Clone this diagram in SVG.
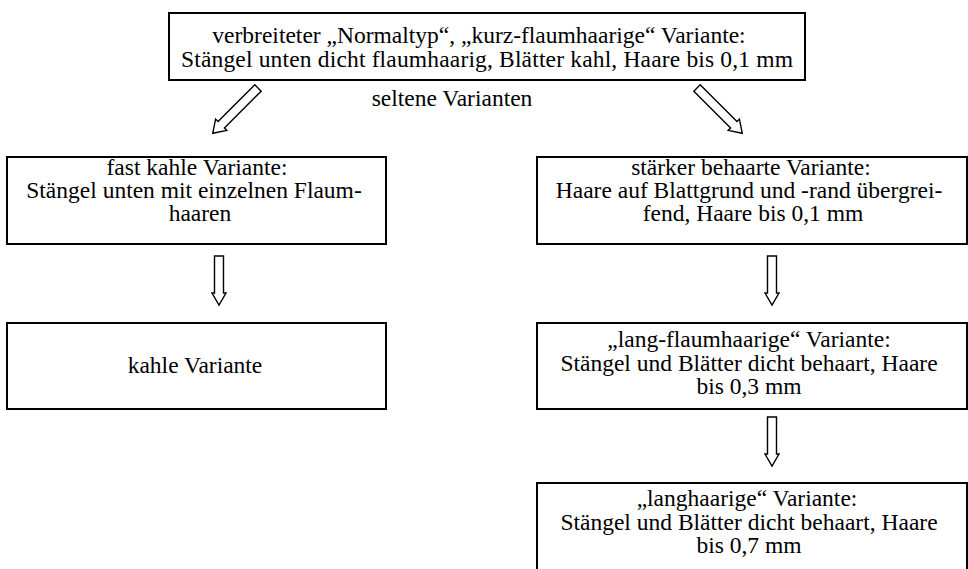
<svg xmlns="http://www.w3.org/2000/svg" width="968" height="569" viewBox="0 0 968 569">
<defs>
<style>
.box{fill:#fff;stroke:#000;stroke-width:2}
.t{font-family:"Liberation Serif","Times New Roman",serif;font-size:23.5px;fill:#000;text-anchor:middle}
.arr{fill:#fff;stroke:#000;stroke-width:1.4;stroke-linejoin:miter}
</style>
<path id="dn" d="M-4.5,0 H4.5 V37 H7 L0,49 L-7,37 H-4.5 Z"/>
<path id="dg" d="M-4.5,0 H4.5 V52 H8 L0,64 L-8,52 H-4.5 Z"/>
</defs>
<rect width="968" height="569" fill="#fff"/>
<g id="n-top">
<rect class="box" x="169" y="13" width="636" height="67"/>
<text class="t" x="479" y="43">verbreiteter „Normaltyp“, „kurz-flaumhaarige“ Variante:</text>
<text class="t" x="487" y="67" textLength="612" lengthAdjust="spacing">Stängel unten dicht flaumhaarig, Blätter kahl, Haare bis 0,1 mm</text>
</g>
<g id="lbl-selten">
<text class="t" x="452" y="106">seltene Varianten</text>
</g>
<g id="n-fastkahl">
<rect class="box" x="7" y="157" width="379" height="87"/>
<text class="t" x="197" y="175">fast kahle Variante:</text>
<text class="t" x="194" y="198">Stängel unten mit einzelnen Flaum-</text>
<text class="t" x="200" y="221">haaren</text>
</g>
<g id="n-kahl">
<rect class="box" x="7" y="323" width="379" height="86"/>
<text class="t" x="195" y="373">kahle Variante</text>
</g>
<g id="n-staerker">
<rect class="box" x="537" y="157" width="430" height="87"/>
<text class="t" x="751" y="175">stärker behaarte Variante:</text>
<text class="t" x="749" y="198">Haare auf Blattgrund und -rand übergrei-</text>
<text class="t" x="753" y="221">fend, Haare bis 0,1 mm</text>
</g>
<g id="n-langflaum">
<rect class="box" x="537" y="323" width="430" height="86"/>
<text class="t" x="749" y="347">„lang-flaumhaarige“ Variante:</text>
<text class="t" x="749" y="371">Stängel und Blätter dicht behaart, Haare</text>
<text class="t" x="749" y="394">bis 0,3 mm</text>
</g>
<g id="n-langhaar">
<rect class="box" x="537" y="483" width="430" height="100"/>
<text class="t" x="747" y="506">„langhaarige“ Variante:</text>
<text class="t" x="749" y="530">Stängel und Blätter dicht behaart, Haare</text>
<text class="t" x="749" y="553">bis 0,7 mm</text>
</g>
<g id="connectors">
<use href="#dg" class="arr" transform="translate(258,88) rotate(45)"/>
<use href="#dg" class="arr" transform="translate(697,88) rotate(-45)"/>
<use href="#dn" class="arr" transform="translate(219,256)"/>
<use href="#dn" class="arr" transform="translate(772,256)"/>
<use href="#dn" class="arr" transform="translate(772,417)"/>
</g>
</svg>
